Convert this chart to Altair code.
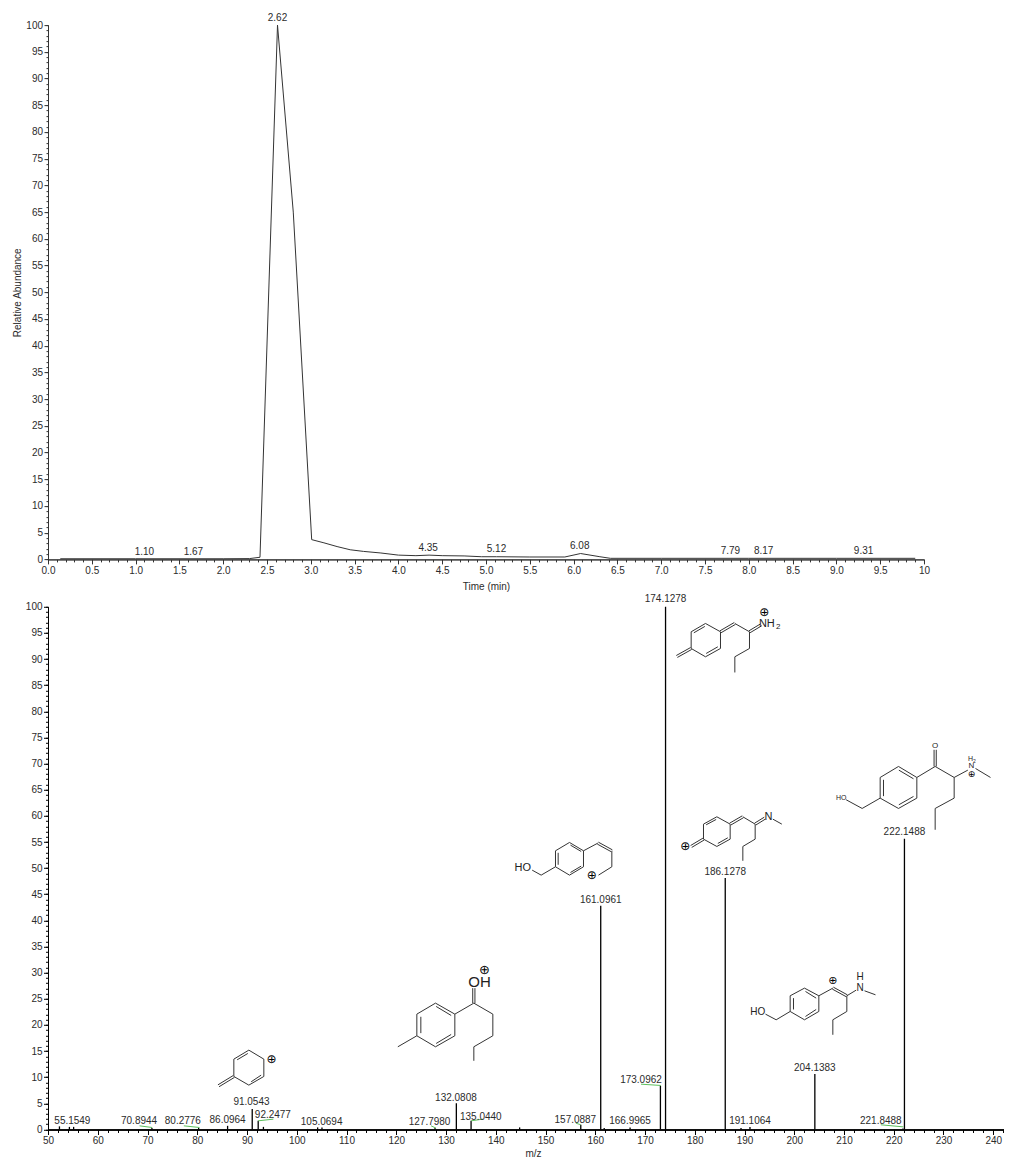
import altair as alt
import pandas as pd

FONT = "Liberation Sans"
INK = "#2b2b2b"
GREEN = "#5cbf5c"

# ---------- chromatogram ----------
time_min = [0.14, 1.0, 2.0, 2.3, 2.42, 2.62, 2.80, 3.01, 3.15, 3.3, 3.45, 3.6, 3.8, 4.0, 4.2,
            4.35, 4.5, 4.75, 4.95, 5.12, 5.5, 5.9, 6.08, 6.3, 6.42, 7.0, 8.0, 9.0, 9.9]
abundance = [0.12, 0.12, 0.12, 0.15, 0.4, 100, 65, 3.7, 3.1, 2.4, 1.8, 1.5, 1.2, 0.8, 0.7,
             0.8, 0.7, 0.65, 0.5, 0.5, 0.45, 0.45, 1.1, 0.5, 0.2, 0.2, 0.2, 0.2, 0.2]
rt_text = ["2.62", "1.10", "1.67", "4.35", "5.12", "6.08", "7.79", "8.17", "9.31"]
rt_x = [2.62, 1.10, 1.66, 4.34, 5.12, 6.07, 7.79, 8.17, 9.31]
rt_y = [101.4, 1.37, 1.37, 2.1, 1.93, 2.5, 1.55, 1.55, 1.55]

# ---------- mass spectrum ----------
mz_peaks = [52.3, 54.3, 55.15, 70.89, 80.28, 86.1, 91.05, 92.25, 93.3, 104.2, 105.07, 127.8, 132.08,
            135.04, 144.8, 157.09, 161.1, 161.8, 167.0, 173.1, 174.13, 186.13, 189.3, 191.1, 204.14,
            221.85, 222.15]
int_peaks = [0.6, 0.5, 0.5, 0.3, 0.3, 0.7, 3.9, 1.65, 0.5, 0.4, 0.4, 0.3, 5.04,
             1.65, 0.4, 0.9, 42.8, 0.3, 0.4, 8.35, 100, 48.1, 0.3, 0.5, 10.6,
             0.2, 55.6]
mz_text = ["55.1549", "70.8944", "80.2776", "86.0964", "91.0543", "92.2477", "105.0694", "127.7980",
           "132.0808", "135.0440", "157.0887", "161.0961", "166.9965", "173.0962", "174.1278",
           "186.1278", "191.1064", "204.1383", "221.8488", "222.1488"]
mz_text_x = [54.9, 68.3, 77.1, 86.1, 90.9, 95.2, 105.0, 126.7, 132.0, 137.0, 156.0, 161.1, 167.0,
             169.2, 174.13, 186.13, 191.1, 204.14, 217.4, 222.15]
mz_text_y = [1.53, 1.53, 1.53, 1.86, 5.17, 2.68, 1.47, 1.47, 6.12, 2.43, 1.91, 43.9, 1.66,
             9.45, 101.5, 49.3, 1.72, 11.8, 1.66, 56.95]
lead_x1 = [68.4, 77.3, 92.25, 127.0, 135.05, 156.1, 169.2, 217.4]
lead_x2 = [70.95, 80.45, 95.3, 128.0, 137.4, 157.1, 173.2, 221.95]
lead_y1 = [0.7, 0.7, 1.66, 0.7, 1.66, 1.21, 8.67, 0.9]
lead_y2 = [0.38, 0.38, 1.98, 0.26, 1.98, 0.9, 8.42, 0.5]

# ---------- axes ----------
TOP_X_MAJOR = [i * 0.5 for i in range(21)]
TOP_X_MINOR = [i * 0.1 for i in range(101)]
PCT_MAJOR = list(range(0, 101, 5))
PCT_MINOR = list(range(0, 101))
MZ_MAJOR = list(range(50, 241, 10))
MZ_MINOR = list(range(50, 243, 2))

W_TOP, H_TOP = 876, 534.3
W_BOT, H_BOT = 955.5, 522.7
MZ_MAX = 50 + W_BOT / 4.975


# ---------- structure drawings, laid out in spectrum units ----------
def to_mz(px):
    return 50 + (px - 48.5) / 4.975


def to_ab(py):
    return (1128.7 - py) / 5.227


def molecule(ox, oy, chains, doubles, inner, labels):
    bonds, texts = [], []

    def g(p):
        return ox + p[0] / 3, oy + p[1] / 3

    def add(a, b):
        (x1, y1), (x2, y2) = g(a), g(b)
        bonds.append(dict(x=to_mz(x1), x2=to_mz(x2), y=to_ab(y1), y2=to_ab(y2)))

    for ch in chains:
        for a, b in zip(ch, ch[1:]):
            add(a, b)
    for a, b in inner:
        add(a, b)
    for a, b in doubles:
        (x1, y1), (x2, y2) = g(a), g(b)
        dx, dy = x2 - x1, y2 - y1
        n = (dx * dx + dy * dy) ** 0.5
        ox_, oy_ = -dy / n * 1.1, dx / n * 1.1
        for s in (1, -1):
            bonds.append(dict(x=to_mz(x1 + s * ox_), x2=to_mz(x2 + s * ox_),
                              y=to_ab(y1 + s * oy_), y2=to_ab(y2 + s * oy_)))
    for p, t, sz in labels:
        x, y = g(p)
        texts.append(dict(x=to_mz(x), y=to_ab(y), t=t, s=sz))
    return bonds, texts


PLUS = "\u2295"
mols = [
    # NH2+ (174)
    molecule(660, 600,
             [[(95, 93), (138, 68), (183, 93), (183, 143), (138, 168), (95, 143), (95, 93)],
              [(226, 68), (270, 93), (270, 143), (226, 168), (226, 215)]],
             [((95, 143), (52, 167)), ((183, 93), (226, 68)), ((270, 93), (305, 72))],
             [((103, 96), (136, 77)), ((140, 158), (175, 138))],
             [((322, 70), "NH", 11), ((356, 78), "2", 8), ((314, 33), PLUS, 12)]),
    # N-methyl (186)
    molecule(660, 600,
             [[(132, 670), (172, 648), (212, 670), (212, 715), (172, 737), (132, 715), (132, 670)],
              [(250, 648), (287, 670), (287, 715), (250, 737), (250, 780)],
              [(340, 655), (367, 670)]],
             [((132, 715), (95, 737)), ((212, 670), (250, 648)), ((287, 670), (316, 652))],
             [((140, 672), (170, 656)), ((175, 728), (205, 711))],
             [((327, 650), "N", 11), ((77, 736), PLUS, 12)]),
    # parent (222)
    molecule(660, 600,
             [[(662, 530), (717, 497), (772, 530), (772, 592), (717, 623), (662, 592), (662, 530)],
              [(560, 597), (608, 623), (662, 592)],
              [(772, 530), (827, 497), (884, 530), (925, 508)],
              [(884, 530), (884, 592), (827, 623), (827, 687)],
              [(948, 503), (993, 530)]],
             [((827, 497), (827, 447))],
             [((672, 537), (672, 586)), ((718, 508), (762, 534)), ((718, 612), (762, 587))],
             [((545, 593), "HO", 7), ((827, 435), "O", 8), ((936, 497), "N", 8),
              ((933, 475), "H", 7), ((945, 480), "2", 5), ((936, 520), PLUS, 9)]),
    # HO allyl (161)
    molecule(380, 840,
             [[(528, 30), (570, 5), (612, 30), (612, 78), (570, 103), (528, 78), (528, 30)],
              [(458, 88), (485, 103), (528, 78)],
              [(612, 30), (655, 7)],
              [(697, 30), (697, 78), (657, 103)]],
             [((655, 7), (697, 30))],
             [((536, 36), (536, 72)), ((573, 13), (605, 32)), ((573, 95), (605, 76))],
             [((430, 82), "HO", 11), ((637, 103), PLUS, 12)]),
    # OH+ (132)
    molecule(380, 840,
             [[(112, 520), (168, 487), (226, 520), (226, 585), (168, 618), (112, 585), (112, 520)],
              [(112, 585), (55, 618)],
              [(226, 520), (283, 487), (340, 520), (340, 585), (283, 618), (283, 660)]],
             [((283, 487), (283, 442))],
             [((124, 528), (124, 577)), ((170, 497), (215, 524)), ((170, 608), (215, 581))],
             [((300, 423), "OH", 15), ((315, 387), PLUS, 13)]),
    # tropylium-like (91)
    molecule(200, 1030,
             [[(103, 85), (148, 58), (193, 85), (193, 137), (148, 163), (103, 137), (103, 85)]],
             [((103, 137), (57, 165))],
             [((113, 87), (145, 68)), ((155, 153), (185, 133))],
             [((216, 85), PLUS, 12)]),
    # N-H (204)
    molecule(740, 960,
             [[(152, 105), (195, 82), (238, 105), (238, 152), (195, 177), (152, 152), (152, 105)],
              [(78, 160), (110, 177), (152, 152)],
              [(238, 105), (280, 82)],
              [(322, 105), (350, 88)],
              [(322, 105), (322, 152), (280, 177), (280, 222)],
              [(375, 90), (408, 102)]],
             [((280, 82), (322, 105))],
             [((162, 112), (162, 146)), ((198, 92), (230, 112)), ((198, 167), (230, 146))],
             [((55, 155), "HO", 10), ((362, 82), "N", 10), ((362, 50), "H", 10), ((280, 62), PLUS, 11)]),
]
bonds = pd.DataFrame([b for m in mols for b in m[0]])
struct_text = pd.DataFrame([t for m in mols for t in m[1]])


# ---------- shared pieces ----------
def axis(values, orient, size, labels=False, title=None, expr=None, width=1.0, color="#333333", pad=1.5, tpad=None, tx=None):
    kw = dict(values=values, orient=orient, tickSize=size, labels=labels, grid=False,
              domain=True, domainColor=color, tickColor=color, domainWidth=width, tickWidth=1,
              labelFont=FONT, labelFontSize=10, labelColor=INK, labelPadding=pad,
              labelOverlap=False, labelFlush=False, labelBound=False,
              titleFont=FONT, titleFontSize=10, titleFontWeight="normal", titleColor=INK)
    kw["title"] = title if title else None
    if expr:
        kw["labelExpr"] = expr
    if tpad is not None:
        kw["titlePadding"] = tpad
    if tx is not None:
        kw["titleX"] = tx
    return alt.Axis(**kw)


# ---------- top panel ----------
sx = alt.Scale(domain=[0, 10], nice=False, zero=False)
sy = alt.Scale(domain=[0, 100], nice=False, zero=False)
chrom = pd.DataFrame(dict(t=time_min, a=abundance))
X_EXPR = "datum.value == 10 ? '10' : format(datum.value, '.1f')"

top_minor = alt.Chart(chrom).mark_line(opacity=0).encode(
    x=alt.X("t:Q", scale=sx, axis=axis(TOP_X_MINOR, "bottom", 2.5)),
    y=alt.Y("a:Q", scale=sy, axis=axis(PCT_MINOR, "left", 2)))
top_major = alt.Chart(chrom).mark_line(color="#333333", strokeWidth=1).encode(
    x=alt.X("t:Q", scale=sx, axis=axis(TOP_X_MAJOR, "bottom", 4.5, True, "Time (min)", X_EXPR, tpad=6)),
    y=alt.Y("a:Q", scale=sy, axis=axis(PCT_MAJOR, "left", 4, True, "Relative Abundance", tpad=3.1)))
top_labels = alt.Chart(pd.DataFrame(dict(x=rt_x, y=rt_y, t=rt_text))).mark_text(
    font=FONT, fontSize=10, color=INK, baseline="middle", align="center").encode(
    x=alt.X("x:Q", scale=sx, axis=None), y=alt.Y("y:Q", scale=sy, axis=None), text="t:N")
top = alt.layer(top_minor, top_major, top_labels).resolve_axis(x="independent", y="independent").properties(
    width=W_TOP, height=H_TOP)

# ---------- bottom panel ----------
bx = alt.Scale(domain=[50, MZ_MAX], nice=False, zero=False)
by = alt.Scale(domain=[0, 100], nice=False, zero=False)
peaks = pd.DataFrame(dict(m=mz_peaks, i=int_peaks, z=[0] * len(mz_peaks)))

bot_minor = alt.Chart(peaks).mark_rule(opacity=0).encode(
    x=alt.X("m:Q", scale=bx, axis=axis(MZ_MINOR, "bottom", 3, color="#000000", width=1.5)),
    y=alt.Y("i:Q", scale=by, axis=axis(PCT_MINOR, "left", 2.5, color="#000000")))
bot_major = alt.Chart(peaks).mark_rule(color="#000000", strokeWidth=1.3).encode(
    x=alt.X("m:Q", scale=bx, axis=axis(MZ_MAJOR, "bottom", 5, True, "m/z", color="#000000", width=1.5, tpad=3, tx=485)),
    y=alt.Y("i:Q", scale=by, axis=axis(PCT_MAJOR, "left", 4.5, True, color="#000000")),
    y2="z:Q")
leaders = alt.Chart(pd.DataFrame(dict(x=lead_x1, x2=lead_x2, y=lead_y1, y2=lead_y2))).mark_rule(
    color=GREEN, strokeWidth=1).encode(
    x=alt.X("x:Q", scale=bx, axis=None), x2="x2:Q", y=alt.Y("y:Q", scale=by, axis=None), y2="y2:Q")
bot_labels = alt.Chart(pd.DataFrame(dict(x=mz_text_x, y=mz_text_y, t=mz_text))).mark_text(
    font=FONT, fontSize=10, color=INK, baseline="middle", align="center").encode(
    x=alt.X("x:Q", scale=bx, axis=None), y=alt.Y("y:Q", scale=by, axis=None), text="t:N")
struct_lines = alt.Chart(bonds).mark_rule(color="#333333", strokeWidth=1).encode(
    x=alt.X("x:Q", scale=bx, axis=None), x2="x2:Q", y=alt.Y("y:Q", scale=by, axis=None), y2="y2:Q")
plain = struct_text[struct_text.t != PLUS]
pluses = struct_text[struct_text.t == PLUS]
struct_labels = alt.Chart(plain).mark_text(font=FONT, color="#222222", baseline="middle", align="center").encode(
    x=alt.X("x:Q", scale=bx, axis=None), y=alt.Y("y:Q", scale=by, axis=None), text="t:N",
    size=alt.Size("s:Q", scale=None, legend=None))
struct_plus = alt.Chart(pluses).mark_text(font="DejaVu Sans", color="#000000", baseline="middle", align="center").encode(
    x=alt.X("x:Q", scale=bx, axis=None), y=alt.Y("y:Q", scale=by, axis=None), text="t:N",
    size=alt.Size("s:Q", scale=None, legend=None))

bottom = alt.layer(bot_minor, bot_major, leaders, bot_labels, struct_lines, struct_labels, struct_plus).resolve_axis(
    x="independent", y="independent").properties(width=W_BOT, height=H_BOT)

chart = alt.vconcat(top, bottom, spacing=46.7, bounds="flush").properties(
    padding={"left": 4, "top": 4.1, "right": 0, "bottom": 0}
).configure_view(stroke=None)

chart.save("out.html", embed_options={"renderer": "svg", "actions": False})
